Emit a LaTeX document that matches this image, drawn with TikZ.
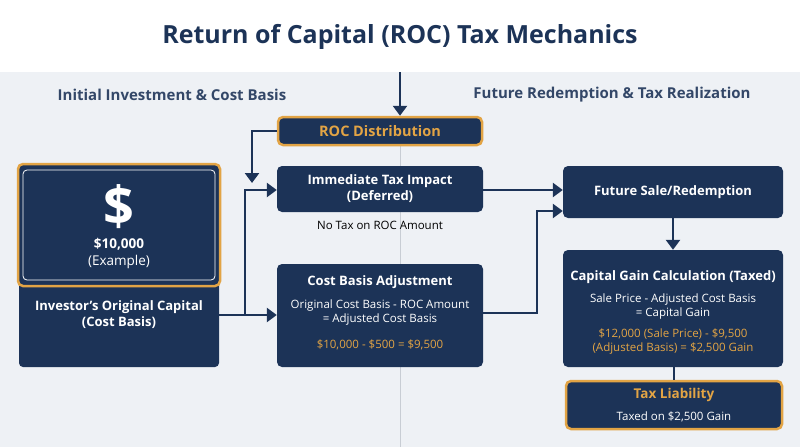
\documentclass[tikz,border=0pt]{standalone}
\usepackage{fontspec}
\setmainfont{Open Sans}
\usetikzlibrary{arrows.meta}
\definecolor{navy}{HTML}{1C3357}
\definecolor{gold}{HTML}{E2A445}
\definecolor{bg}{HTML}{EEF1F5}
\definecolor{divc}{HTML}{C8CDD4}
\begin{document}
\begin{tikzpicture}[x=1pt,y=-1pt,
 box/.style={fill=navy,rounded corners=5pt,text=white,align=center},
 gbox/.style={box,draw=gold,line width=2.5pt},
 conn/.style={draw=navy,line width=2.6pt,-{Triangle[length=10pt,width=14pt]}},
 line/.style={draw=navy,line width=2.6pt},
 tt/.style={font=\bfseries\fontsize{13}{16}\selectfont}]
\useasboundingbox (0,0) rectangle (800,447);
\fill[bg] (0,72) rectangle (800,447);
\fill[white] (0,0) rectangle (800,72);
\draw[divc,line width=1pt] (400,146) -- (400,447);
\node[font=\bfseries\fontsize{25}{28}\selectfont,text=navy] (title) at (400,37) {Return of Capital (ROC) Tax Mechanics};
\node[font=\fontsize{15}{18}\selectfont\bfseries,text=navy!90] (hl) at (172,95) {Initial Investment \& Cost Basis};
\node[font=\fontsize{15}{18}\selectfont\bfseries,text=navy!90] (hr) at (612,95) {Future Redemption \& Tax Realization};
\coordinate (topc) at (400,72);
% boxes
\node[gbox,minimum width=204pt,minimum height=28pt,text=gold,font=\bfseries\fontsize{14.5}{17}\selectfont] (roc) at (380,131) {ROC Distribution};
\node[box,minimum width=206pt,minimum height=46pt,tt] (imm) at (380,189) {Immediate Tax Impact\\(Deferred)};
\node[font=\fontsize{11.5}{13}\selectfont,text=black] (notax) at (380,225) {No Tax on ROC Amount};
\node[box,minimum width=206pt,minimum height=103pt] (cba) at (380,315.5) {};
\node[tt,text=white] (cbat) at (380,282) {Cost Basis Adjustment};
\node[text=white,align=center,font=\fontsize{11.5}{14}\selectfont] (cbaf) at (380,313) {Original Cost Basis - ROC Amount\\= Adjusted Cost Basis};
\node[text=gold,font=\fontsize{11.5}{13}\selectfont] (cbav) at (380,345) {\$10,000 - \$500 = \$9,500};
% left
\node[box,minimum width=200pt,minimum height=90pt,rounded corners=4pt] (inv) at (119,322) {};
\node[tt,text=white,align=center] (invt) at (119,315) {Investor’s Original Capital\\(Cost Basis)};
\node[gbox,minimum width=202pt,minimum height=122pt] (cash) at (119,225) {};
\draw[white,line width=0.8pt,rounded corners=4pt] (23,170) rectangle (215,280);
\node[text=white,font=\bfseries\fontsize{54}{56}\selectfont] (dol) at (119,207) {\$};
\node[text=white,align=center,font=\fontsize{13.5}{17}\selectfont] (amt) at (119,253) {\textbf{\$10,000}\\(Example)};
% right
\node[box,minimum width=220pt,minimum height=52pt,tt] (fut) at (673,192) {Future Sale/Redemption};
\node[box,minimum width=220pt,minimum height=117pt] (cap) at (673,308.5) {};
\node[tt,text=white] (capt) at (673,277) {Capital Gain Calculation (Taxed)};
\node[text=white,align=center,font=\fontsize{11.5}{14}\selectfont] (capf) at (673,307) {Sale Price - Adjusted Cost Basis\\= Capital Gain};
\node[text=gold,align=center,font=\fontsize{11.5}{14}\selectfont] (capv) at (673,342) {\$12,000 (Sale Price) - \$9,500\\(Adjusted Basis) = \$2,500 Gain};
\node[gbox,minimum width=216pt,minimum height=48pt] (tax) at (674,405) {};
\node[text=gold,font=\bfseries\fontsize{13.5}{16}\selectfont] (taxt) at (674,395) {Tax Liability};
\node[text=white,font=\fontsize{11.5}{13}\selectfont] (taxv) at (674,417) {Taxed on \$2,500 Gain};
% connectors
\draw[conn] (topc) -- (roc.north -| topc);
\coordinate (r1) at (252,131);
\coordinate (r2) at (252,183);
\draw[conn] (roc.west) -- (r1) -- (r2);
\coordinate (j1) at (245,315);
\coordinate (j2) at (245,190);
\draw[line] (inv.east |- j1) -- (j1);
\draw[conn] (j1) -- (cba.west |- j1);
\draw[conn] (j1) -- (j2) -- (imm.west |- j2);
\draw[conn] (imm.east |- 0,190) -- (fut.west |- 0,190);
\coordinate (k1) at (537,313);
\coordinate (k2) at (537,211);
\draw[conn] (cba.east |- k1) -- (k1) -- (k2) -- (fut.west |- k2);
\draw[conn] (fut.south) -- (cap.north);
\draw[line] (cap.south -| tax.north) -- (tax.north);
\end{tikzpicture}
\end{document}
